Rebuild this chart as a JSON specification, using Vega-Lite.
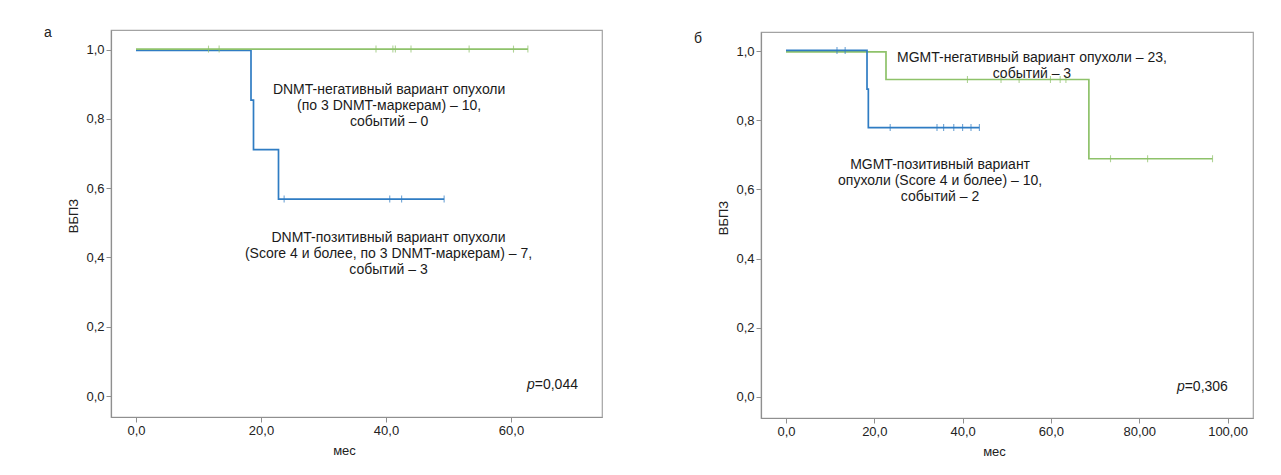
{
  "$schema": "https://vega.github.io/schema/vega-lite/v6.json",
  "background": "white",
  "padding": {"left": 43, "top": 25, "right": 5, "bottom": 5},
  "spacing": 90,
  "config": {
    "font": "Liberation Sans",
    "view": {"stroke": "#a3a3a3", "strokeWidth": 1.2},
    "axis": {
      "grid": false,
      "domainColor": "#8f8f8f",
      "domainWidth": 1.2,
      "tickColor": "#8f8f8f",
      "tickSize": 5,
      "labelFontSize": 13,
      "labelColor": "#222222",
      "labelFont": "Liberation Sans",
      "titleFont": "Liberation Sans",
      "titleFontSize": 13,
      "titleFontWeight": "normal",
      "titleColor": "#222222",
      "titlePadding": 5
    },
    "axisX": {"titlePadding": 7, "titleX": 233, "labelExpr": "datum.value >= 80 ? replace(format(datum.value, '.2f'), '.', ',') : replace(format(datum.value, '.1f'), '.', ',')"},
    "axisY": {"titleY": 185.5, "labelExpr": "replace(format(datum.value, '.1f'), '.', ',')"},
    "title": {"fontSize": 14, "fontWeight": "normal", "color": "#222222", "font": "Liberation Sans", "anchor": "start", "frame": "group"}
  },
  "datasets": {
    "curves": [
      {"panel": "а", "group": "позитивный", "time": 0, "surv": 1.0},
      {"panel": "а", "group": "позитивный", "time": 18.4, "surv": 0.857},
      {"panel": "а", "group": "позитивный", "time": 18.8, "surv": 0.714},
      {"panel": "а", "group": "позитивный", "time": 22.8, "surv": 0.571},
      {"panel": "а", "group": "позитивный", "time": 49.3, "surv": 0.571},
      {"panel": "а", "group": "негативный", "time": 0, "surv": 1.0},
      {"panel": "а", "group": "негативный", "time": 62.7, "surv": 1.0},
      {"panel": "б", "group": "позитивный", "time": 0, "surv": 1.0},
      {"panel": "б", "group": "позитивный", "time": 18.35, "surv": 0.888},
      {"panel": "б", "group": "позитивный", "time": 18.65, "surv": 0.777},
      {"panel": "б", "group": "позитивный", "time": 43.8, "surv": 0.777},
      {"panel": "б", "group": "негативный", "time": 0, "surv": 1.0},
      {"panel": "б", "group": "негативный", "time": 22.65, "surv": 0.92},
      {"panel": "б", "group": "негативный", "time": 68.6, "surv": 0.691},
      {"panel": "б", "group": "негативный", "time": 96.6, "surv": 0.691}
    ],
    "censors": [
      {"panel": "а", "group": "позитивный", "time": 23.7, "surv": 0.571},
      {"panel": "а", "group": "позитивный", "time": 40.6, "surv": 0.571},
      {"panel": "а", "group": "позитивный", "time": 42.5, "surv": 0.571},
      {"panel": "а", "group": "позитивный", "time": 49.3, "surv": 0.571},
      {"panel": "а", "group": "негативный", "time": 11.6, "surv": 1.0},
      {"panel": "а", "group": "негативный", "time": 13.3, "surv": 1.0},
      {"panel": "а", "group": "негативный", "time": 38.4, "surv": 1.0},
      {"panel": "а", "group": "негативный", "time": 41.1, "surv": 1.0},
      {"panel": "а", "group": "негативный", "time": 41.5, "surv": 1.0},
      {"panel": "а", "group": "негативный", "time": 44.0, "surv": 1.0},
      {"panel": "а", "group": "негативный", "time": 53.3, "surv": 1.0},
      {"panel": "а", "group": "негативный", "time": 60.4, "surv": 1.0},
      {"panel": "а", "group": "негативный", "time": 62.7, "surv": 1.0},
      {"panel": "б", "group": "позитивный", "time": 11.55, "surv": 1.0},
      {"panel": "б", "group": "позитивный", "time": 13.4, "surv": 1.0},
      {"panel": "б", "group": "позитивный", "time": 23.6, "surv": 0.777},
      {"panel": "б", "group": "позитивный", "time": 34.2, "surv": 0.777},
      {"panel": "б", "group": "позитивный", "time": 35.7, "surv": 0.777},
      {"panel": "б", "group": "позитивный", "time": 38.0, "surv": 0.777},
      {"panel": "б", "group": "позитивный", "time": 40.0, "surv": 0.777},
      {"panel": "б", "group": "позитивный", "time": 41.9, "surv": 0.777},
      {"panel": "б", "group": "позитивный", "time": 43.8, "surv": 0.777},
      {"panel": "б", "group": "негативный", "time": 41.1, "surv": 0.92},
      {"panel": "б", "group": "негативный", "time": 48.7, "surv": 0.92},
      {"panel": "б", "group": "негативный", "time": 52.8, "surv": 0.92},
      {"panel": "б", "group": "негативный", "time": 59.9, "surv": 0.92},
      {"panel": "б", "group": "негативный", "time": 62.1, "surv": 0.92},
      {"panel": "б", "group": "негативный", "time": 63.4, "surv": 0.92},
      {"panel": "б", "group": "негативный", "time": 73.5, "surv": 0.691},
      {"panel": "б", "group": "негативный", "time": 81.9, "surv": 0.691},
      {"panel": "б", "group": "негативный", "time": 96.6, "surv": 0.691}
    ]
  },
  "hconcat": [
    {
      "width": 491,
      "height": 387,
      "title": {"text": "а", "dx": -67, "dy": 10, "offset": 0},
      "layer": [
        {"data": {"name": "curves"}, "transform": [{"filter": "datum.panel == 'а' && datum.group == 'позитивный'"}],
          "mark": {"type": "line", "interpolate": "step-after", "color": "#2f7cc3", "strokeWidth": 1.7, "yOffset": 0.8},
          "encoding": {
            "x": {"field": "time", "type": "quantitative", "title": "мес", "scale": {"domain": [-4, 74.56], "nice": false, "zero": false}, "axis": {"values": [0, 20, 40, 60]}},
            "y": {"field": "surv", "type": "quantitative", "title": "ВБПЗ", "scale": {"domain": [-0.0606, 1.0569], "nice": false, "zero": false}, "axis": {"values": [0, 0.2, 0.4, 0.6, 0.8, 1.0]}}
          }},
        {"data": {"name": "curves"}, "transform": [{"filter": "datum.panel == 'а' && datum.group == 'негативный'"}],
          "mark": {"type": "line", "interpolate": "step-after", "color": "#8ec26a", "strokeWidth": 1.7, "yOffset": -0.6},
          "encoding": {
            "x": {"field": "time", "type": "quantitative", "title": "мес", "scale": {"domain": [-4, 74.56], "nice": false, "zero": false}, "axis": {"values": [0, 20, 40, 60]}},
            "y": {"field": "surv", "type": "quantitative", "title": "ВБПЗ", "scale": {"domain": [-0.0606, 1.0569], "nice": false, "zero": false}, "axis": {"values": [0, 0.2, 0.4, 0.6, 0.8, 1.0]}}
          }},
        {"data": {"name": "censors"}, "transform": [{"filter": "datum.panel == 'а' && datum.group == 'позитивный'"}],
          "mark": {"type": "tick", "orient": "vertical", "color": "#2f7cc3", "size": 7, "thickness": 1.1, "yOffset": 0.8},
          "encoding": {
            "x": {"field": "time", "type": "quantitative", "title": "мес", "scale": {"domain": [-4, 74.56], "nice": false, "zero": false}, "axis": {"values": [0, 20, 40, 60]}},
            "y": {"field": "surv", "type": "quantitative", "title": "ВБПЗ", "scale": {"domain": [-0.0606, 1.0569], "nice": false, "zero": false}, "axis": {"values": [0, 0.2, 0.4, 0.6, 0.8, 1.0]}}
          }},
        {"data": {"name": "censors"}, "transform": [{"filter": "datum.panel == 'а' && datum.group == 'негативный'"}],
          "mark": {"type": "tick", "orient": "vertical", "color": "#8ec26a", "size": 7, "thickness": 1.1, "yOffset": -0.6},
          "encoding": {
            "x": {"field": "time", "type": "quantitative", "title": "мес", "scale": {"domain": [-4, 74.56], "nice": false, "zero": false}, "axis": {"values": [0, 20, 40, 60]}},
            "y": {"field": "surv", "type": "quantitative", "title": "ВБПЗ", "scale": {"domain": [-0.0606, 1.0569], "nice": false, "zero": false}, "axis": {"values": [0, 0.2, 0.4, 0.6, 0.8, 1.0]}}
          }},
        {"data": {"values": [{"label": ["DNMT-негативный вариант опухоли", "(по 3 DNMT-маркерам) – 10,", "событий – 0"]}]},
          "mark": {"type": "text", "fontSize": 14, "lineHeight": 16, "align": "center", "baseline": "middle", "color": "#1a1a1a"},
          "encoding": {
            "text": {"field": "label"},
            "x": {"datum": 40.5, "type": "quantitative", "title": "мес", "scale": {"domain": [-4, 74.56], "nice": false, "zero": false}, "axis": {"values": [0, 20, 40, 60]}},
            "y": {"datum": 0.884, "type": "quantitative", "title": "ВБПЗ", "scale": {"domain": [-0.0606, 1.0569], "nice": false, "zero": false}, "axis": {"values": [0, 0.2, 0.4, 0.6, 0.8, 1.0]}}
          }},
        {"data": {"values": [{"label": ["DNMT-позитивный вариант опухоли", "(Score 4 и более, по 3 DNMT-маркерам) – 7,", "событий – 3"]}]},
          "mark": {"type": "text", "fontSize": 14, "lineHeight": 16, "align": "center", "baseline": "middle", "color": "#1a1a1a"},
          "encoding": {
            "text": {"field": "label"},
            "x": {"datum": 40.4, "type": "quantitative", "title": "мес", "scale": {"domain": [-4, 74.56], "nice": false, "zero": false}, "axis": {"values": [0, 20, 40, 60]}},
            "y": {"datum": 0.456, "type": "quantitative", "title": "ВБПЗ", "scale": {"domain": [-0.0606, 1.0569], "nice": false, "zero": false}, "axis": {"values": [0, 0.2, 0.4, 0.6, 0.8, 1.0]}}
          }},
        {"data": {"values": [{"label": "p"}]},
          "mark": {"type": "text", "fontStyle": "italic", "fontSize": 14, "align": "right", "baseline": "middle", "color": "#1a1a1a"},
          "encoding": {
            "text": {"field": "label"},
            "x": {"datum": 63.8, "type": "quantitative", "title": "мес", "scale": {"domain": [-4, 74.56], "nice": false, "zero": false}, "axis": {"values": [0, 20, 40, 60]}},
            "y": {"datum": 0.031, "type": "quantitative", "title": "ВБПЗ", "scale": {"domain": [-0.0606, 1.0569], "nice": false, "zero": false}, "axis": {"values": [0, 0.2, 0.4, 0.6, 0.8, 1.0]}}
          }},
        {"data": {"values": [{"label": "=0,044"}]},
          "mark": {"type": "text", "fontSize": 14, "align": "left", "baseline": "middle", "color": "#1a1a1a"},
          "encoding": {
            "text": {"field": "label"},
            "x": {"datum": 63.8, "type": "quantitative", "title": "мес", "scale": {"domain": [-4, 74.56], "nice": false, "zero": false}, "axis": {"values": [0, 20, 40, 60]}},
            "y": {"datum": 0.031, "type": "quantitative", "title": "ВБПЗ", "scale": {"domain": [-0.0606, 1.0569], "nice": false, "zero": false}, "axis": {"values": [0, 0.2, 0.4, 0.6, 0.8, 1.0]}}
          }}
      ]
    },
    {
      "spacing": 0,
      "vconcat": [
        {
          "width": 492,
          "height": 1,
          "view": {"stroke": null},
          "data": {"values": []},
          "mark": {"type": "text"},
          "encoding": {}
        },
        {
          "width": 492,
          "height": 386,
          "title": {"text": "б", "dx": -67, "dy": 14, "offset": 0},
          "layer": [
            {"data": {"name": "curves"}, "transform": [{"filter": "datum.panel == 'б' && datum.group == 'негативный'"}],
              "mark": {"type": "line", "interpolate": "step-after", "color": "#8ec26a", "strokeWidth": 1.7, "yOffset": 0.8},
              "encoding": {
                "x": {"field": "time", "type": "quantitative", "title": "мес", "scale": {"domain": [-5.66, 105.77], "nice": false, "zero": false}, "axis": {"values": [0, 20, 40, 60, 80, 100]}},
                "y": {"field": "surv", "type": "quantitative", "title": "ВБПЗ", "scale": {"domain": [-0.0607, 1.055], "nice": false, "zero": false}, "axis": {"values": [0, 0.2, 0.4, 0.6, 0.8, 1.0]}}
              }},
            {"data": {"name": "curves"}, "transform": [{"filter": "datum.panel == 'б' && datum.group == 'позитивный'"}],
              "mark": {"type": "line", "interpolate": "step-after", "color": "#2f7cc3", "strokeWidth": 1.7, "yOffset": -0.6},
              "encoding": {
                "x": {"field": "time", "type": "quantitative", "title": "мес", "scale": {"domain": [-5.66, 105.77], "nice": false, "zero": false}, "axis": {"values": [0, 20, 40, 60, 80, 100]}},
                "y": {"field": "surv", "type": "quantitative", "title": "ВБПЗ", "scale": {"domain": [-0.0607, 1.055], "nice": false, "zero": false}, "axis": {"values": [0, 0.2, 0.4, 0.6, 0.8, 1.0]}}
              }},
            {"data": {"name": "censors"}, "transform": [{"filter": "datum.panel == 'б' && datum.group == 'негативный'"}],
              "mark": {"type": "tick", "orient": "vertical", "color": "#8ec26a", "size": 7, "thickness": 1.1, "yOffset": 0.8},
              "encoding": {
                "x": {"field": "time", "type": "quantitative", "title": "мес", "scale": {"domain": [-5.66, 105.77], "nice": false, "zero": false}, "axis": {"values": [0, 20, 40, 60, 80, 100]}},
                "y": {"field": "surv", "type": "quantitative", "title": "ВБПЗ", "scale": {"domain": [-0.0607, 1.055], "nice": false, "zero": false}, "axis": {"values": [0, 0.2, 0.4, 0.6, 0.8, 1.0]}}
              }},
            {"data": {"name": "censors"}, "transform": [{"filter": "datum.panel == 'б' && datum.group == 'позитивный'"}],
              "mark": {"type": "tick", "orient": "vertical", "color": "#2f7cc3", "size": 7, "thickness": 1.1, "yOffset": -0.6},
              "encoding": {
                "x": {"field": "time", "type": "quantitative", "title": "мес", "scale": {"domain": [-5.66, 105.77], "nice": false, "zero": false}, "axis": {"values": [0, 20, 40, 60, 80, 100]}},
                "y": {"field": "surv", "type": "quantitative", "title": "ВБПЗ", "scale": {"domain": [-0.0607, 1.055], "nice": false, "zero": false}, "axis": {"values": [0, 0.2, 0.4, 0.6, 0.8, 1.0]}}
              }},
            {"data": {"values": [{"label": ["MGMT-негативный вариант опухоли – 23,", "событий – 3"]}]},
              "mark": {"type": "text", "fontSize": 14, "lineHeight": 16, "align": "center", "baseline": "middle", "color": "#1a1a1a"},
              "encoding": {
                "text": {"field": "label"},
                "x": {"datum": 55.7, "type": "quantitative", "title": "мес", "scale": {"domain": [-5.66, 105.77], "nice": false, "zero": false}, "axis": {"values": [0, 20, 40, 60, 80, 100]}},
                "y": {"datum": 0.979, "type": "quantitative", "title": "ВБПЗ", "scale": {"domain": [-0.0607, 1.055], "nice": false, "zero": false}, "axis": {"values": [0, 0.2, 0.4, 0.6, 0.8, 1.0]}}
              }},
            {"data": {"values": [{"label": ["MGMT-позитивный вариант", "опухоли (Score 4 и более) – 10,", "событий – 2"]}]},
              "mark": {"type": "text", "fontSize": 14, "lineHeight": 16, "align": "center", "baseline": "middle", "color": "#1a1a1a"},
              "encoding": {
                "text": {"field": "label"},
                "x": {"datum": 34.9, "type": "quantitative", "title": "мес", "scale": {"domain": [-5.66, 105.77], "nice": false, "zero": false}, "axis": {"values": [0, 20, 40, 60, 80, 100]}},
                "y": {"datum": 0.67, "type": "quantitative", "title": "ВБПЗ", "scale": {"domain": [-0.0607, 1.055], "nice": false, "zero": false}, "axis": {"values": [0, 0.2, 0.4, 0.6, 0.8, 1.0]}}
              }},
            {"data": {"values": [{"label": "p"}]},
              "mark": {"type": "text", "fontStyle": "italic", "fontSize": 14, "align": "right", "baseline": "middle", "color": "#1a1a1a"},
              "encoding": {
                "text": {"field": "label"},
                "x": {"datum": 90.3, "type": "quantitative", "title": "мес", "scale": {"domain": [-5.66, 105.77], "nice": false, "zero": false}, "axis": {"values": [0, 20, 40, 60, 80, 100]}},
                "y": {"datum": 0.029, "type": "quantitative", "title": "ВБПЗ", "scale": {"domain": [-0.0607, 1.055], "nice": false, "zero": false}, "axis": {"values": [0, 0.2, 0.4, 0.6, 0.8, 1.0]}}
              }},
            {"data": {"values": [{"label": "=0,306"}]},
              "mark": {"type": "text", "fontSize": 14, "align": "left", "baseline": "middle", "color": "#1a1a1a"},
              "encoding": {
                "text": {"field": "label"},
                "x": {"datum": 90.3, "type": "quantitative", "title": "мес", "scale": {"domain": [-5.66, 105.77], "nice": false, "zero": false}, "axis": {"values": [0, 20, 40, 60, 80, 100]}},
                "y": {"datum": 0.029, "type": "quantitative", "title": "ВБПЗ", "scale": {"domain": [-0.0607, 1.055], "nice": false, "zero": false}, "axis": {"values": [0, 0.2, 0.4, 0.6, 0.8, 1.0]}}
              }}
          ]
        }
      ]
    }
  ]
}
